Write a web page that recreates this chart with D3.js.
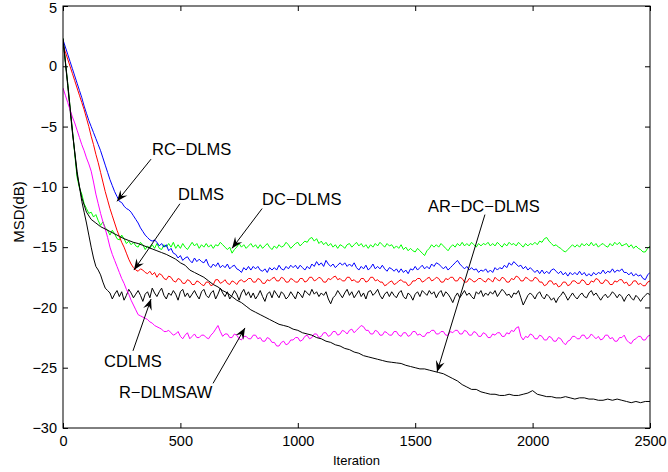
<!DOCTYPE html>
<html>
<head>
<meta charset="utf-8">
<script src="https://cdn.jsdelivr.net/npm/d3@7"></script>
<style>
  html, body { margin: 0; padding: 0; background: #fff; }
  svg { display: block; }
  text { font-family: "Liberation Sans", Arial, Helvetica, sans-serif; fill: #000; }
</style>
</head>
<body>
<svg id="chart" width="668" height="472"></svg>
<script>
// ---------- data ----------
// noisy curves sampled every 10 iterations (0..2500), smooth AR-DC-DLMS every 20
const iters10 = d3.range(0, 2501, 10);
const iters20 = d3.range(0, 2501, 20);

const xTicks = [0, 500, 1000, 1500, 2000, 2500];
const yTicks = [-30, -25, -20, -15, -10, -5, 0, 5];

const dcDLMS = [ // green
  2.3, 0.4, -1.4, -3.4, -5.3, -7.3, -9.2, -10.1, -10.6, -11.4, -11.8, -12.2, -12.1, -12.5, -12.3, -12.8, -13.2, -12.9, -13.4, -13.6,
  -14.0, -13.6, -13.9, -14.3, -14.4, -14.0, -14.3, -14.7, -14.5, -14.8, -14.6, -14.9, -15.0, -14.6, -14.8, -15.2, -14.9, -15.1, -14.8, -15.1,
  -14.7, -15.1, -15.2, -14.8, -15.0, -14.7, -15.0, -14.6, -15.1, -14.8, -15.1, -14.7, -15.0, -15.2, -14.9, -14.6, -14.9, -14.7, -15.1, -14.8,
  -15.0, -14.7, -15.0, -14.8, -15.1, -14.8, -14.9, -14.6, -14.8, -15.0, -15.2, -15.0, -15.5, -15.2, -15.0, -14.7, -15.0, -14.8, -15.1, -14.9,
  -14.7, -15.0, -14.8, -15.1, -14.8, -15.1, -14.9, -14.7, -15.0, -15.2, -14.9, -15.1, -14.8, -15.0, -14.9, -14.6, -14.8, -15.1, -14.9, -14.7,
  -14.6, -14.9, -14.7, -14.5, -14.6, -14.3, -14.2, -14.5, -14.3, -14.7, -14.5, -14.8, -14.6, -14.9, -14.7, -15.0, -14.8, -15.1, -14.8, -14.9,
  -15.1, -14.8, -14.7, -15.0, -14.8, -14.6, -14.9, -14.7, -15.0, -14.8, -15.1, -14.8, -15.0, -14.7, -14.9, -14.6, -14.8, -15.0, -14.7, -14.9,
  -14.8, -15.1, -14.9, -15.1, -14.8, -15.2, -15.0, -15.3, -15.1, -15.3, -15.4, -15.1, -15.3, -15.5, -15.7, -15.3, -15.1, -14.8, -15.0, -14.8,
  -15.0, -14.7, -14.9, -15.1, -15.3, -15.0, -14.8, -15.0, -14.7, -14.9, -14.6, -14.9, -14.7, -14.9, -14.6, -14.8, -15.0, -14.7, -14.9, -14.7,
  -14.8, -14.6, -14.9, -14.7, -14.9, -14.6, -14.8, -15.0, -14.7, -14.9, -14.6, -14.8, -14.7, -14.9, -14.6, -14.8, -15.0, -14.7, -14.9, -14.7,
  -14.8, -14.6, -14.8, -14.5, -14.6, -14.3, -14.2, -14.5, -14.7, -14.9, -14.8, -15.0, -15.1, -15.3, -15.4, -15.2, -15.0, -14.8, -15.0, -14.8,
  -15.0, -14.7, -14.9, -14.7, -14.9, -14.6, -14.9, -14.7, -15.0, -14.8, -14.7, -14.9, -15.0, -14.7, -14.9, -14.6, -14.8, -14.6, -14.9, -14.8,
  -14.7, -15.0, -14.8, -15.1, -14.9, -15.1, -15.2, -15.4, -15.4, -15.1, -14.9
];

const rcDLMS = [ // blue
  2.2, 1.6, 1.0, 0.4, -0.2, -0.8, -1.4, -2.0, -2.6, -3.3, -3.9, -4.5, -5.0, -5.5, -6.0, -6.5, -7.0, -7.6, -8.2, -8.8,
  -9.4, -9.9, -10.4, -10.8, -11.2, -11.3, -11.6, -11.8, -11.9, -12.1, -12.4, -12.7, -13.0, -13.4, -13.7, -14.0, -14.2, -14.4, -14.5, -14.4,
  -14.6, -14.9, -14.7, -15.0, -14.8, -15.3, -15.1, -15.5, -15.6, -15.9, -15.7, -16.1, -15.9, -15.8, -16.1, -16.3, -15.9, -16.2, -16.0, -16.2,
  -16.3, -16.0, -16.5, -16.7, -16.4, -16.6, -16.3, -16.7, -16.5, -16.7, -16.4, -16.8, -16.6, -16.5, -16.8, -16.9, -17.1, -16.7, -16.9, -16.6,
  -16.9, -16.6, -16.8, -16.6, -16.9, -17.0, -16.8, -17.1, -16.7, -16.9, -16.7, -16.9, -16.5, -16.8, -16.9, -16.6, -16.8, -16.5, -16.7, -16.5,
  -16.8, -16.5, -16.7, -16.9, -16.6, -16.8, -16.4, -16.6, -16.2, -16.5, -16.3, -16.6, -16.1, -16.4, -16.6, -16.4, -16.7, -16.5, -16.3, -16.5,
  -16.3, -16.6, -16.4, -16.6, -16.3, -16.7, -16.9, -16.6, -16.8, -16.5, -16.9, -16.7, -16.4, -16.8, -16.6, -16.8, -16.5, -16.8, -17.0, -16.7,
  -16.8, -17.0, -16.8, -17.1, -16.8, -17.1, -16.9, -17.2, -16.8, -16.9, -16.6, -16.9, -16.7, -16.5, -16.8, -16.6, -16.8, -16.4, -16.6, -16.3,
  -16.4, -16.6, -16.8, -16.6, -16.9, -16.7, -16.5, -16.3, -16.1, -16.4, -16.6, -16.8, -16.6, -16.9, -16.7, -16.9, -16.8, -17.1, -16.9, -17.0,
  -16.8, -17.1, -16.9, -17.1, -16.7, -16.9, -16.7, -16.8, -16.5, -16.7, -16.3, -16.5, -16.2, -16.4, -16.6, -16.5, -16.8, -16.6, -16.9, -16.7,
  -16.9, -17.1, -16.9, -17.2, -16.9, -17.2, -17.0, -17.2, -16.9, -16.8, -17.0, -17.2, -17.0, -17.3, -17.1, -17.4, -17.1, -17.3, -17.1, -17.3,
  -17.0, -17.3, -17.1, -17.4, -17.2, -17.4, -17.1, -17.3, -17.1, -17.2, -16.9, -17.2, -17.0, -17.1, -16.8, -17.1, -16.9, -17.0, -16.8, -17.1,
  -17.1, -17.3, -17.1, -17.4, -17.2, -17.4, -17.3, -17.6, -17.7, -17.3, -17.1
];

const dLMS = [ // red
  1.7, 1.2, 0.6, 0.0, -0.6, -1.2, -1.8, -2.4, -3.0, -3.6, -4.3, -5.0, -5.8, -6.5, -7.3, -8.0, -8.8, -9.6, -10.4, -11.1,
  -11.8, -12.4, -13.0, -13.6, -14.1, -14.6, -15.0, -15.5, -16.0, -16.4, -16.7, -16.9, -17.0, -16.8, -16.9, -17.1, -17.2, -17.0, -17.3, -17.1,
  -17.5, -17.2, -17.3, -17.6, -17.7, -17.4, -17.5, -17.8, -17.9, -17.6, -17.7, -18.0, -18.0, -17.7, -17.8, -18.1, -18.1, -17.8, -17.9, -18.1,
  -18.2, -17.9, -17.9, -18.2, -18.1, -17.7, -17.7, -18.0, -17.9, -17.7, -18.0, -18.1, -17.8, -17.9, -18.1, -17.8, -17.7, -17.9, -17.8, -17.6,
  -17.6, -17.9, -17.9, -17.6, -17.7, -18.0, -18.0, -17.7, -17.8, -17.6, -17.5, -17.8, -17.8, -17.5, -17.6, -17.9, -17.9, -17.6, -17.7, -17.9,
  -17.9, -17.6, -17.6, -17.9, -17.8, -17.5, -17.5, -17.8, -17.7, -17.5, -17.6, -17.9, -17.9, -17.6, -17.7, -17.5, -17.4, -17.7, -17.6, -17.8,
  -17.8, -17.5, -17.5, -17.8, -17.7, -17.9, -17.9, -17.6, -17.6, -17.9, -17.8, -17.5, -17.5, -17.8, -17.7, -17.9, -17.9, -18.2, -18.1, -17.9,
  -17.8, -18.1, -18.0, -17.8, -17.7, -17.9, -17.9, -18.2, -18.1, -17.8, -17.8, -17.6, -17.6, -17.9, -17.8, -17.6, -17.5, -17.8, -17.7, -17.5,
  -17.6, -17.9, -17.9, -17.6, -17.7, -17.5, -17.5, -17.8, -17.8, -17.5, -17.6, -17.9, -17.9, -17.6, -17.7, -17.9, -17.8, -17.6, -17.6, -17.8,
  -17.9, -17.6, -17.7, -17.9, -17.5, -17.7, -17.8, -17.5, -17.6, -17.9, -17.9, -17.6, -17.7, -17.4, -17.5, -17.8, -17.8, -17.5, -17.6, -17.8,
  -17.8, -17.5, -17.6, -17.9, -17.9, -18.2, -18.1, -17.8, -17.8, -18.1, -18.0, -18.3, -18.2, -17.9, -17.9, -18.2, -18.1, -17.8, -17.8, -18.0,
  -18.0, -17.7, -17.8, -18.1, -18.1, -17.8, -17.9, -17.6, -17.7, -18.0, -18.0, -17.7, -17.8, -18.1, -18.1, -17.8, -17.9, -17.7, -17.7, -18.0,
  -17.9, -18.2, -18.1, -17.8, -17.8, -18.1, -18.0, -18.2, -18.2, -17.9, -17.8
];

const cDLMS = [ // black, noisy
  2.3, 0.3, -1.6, -3.6, -5.5, -7.1, -8.7, -10.0, -11.2, -12.1, -13.0, -14.0, -15.0, -15.9, -16.6, -16.9, -17.3, -17.9, -18.4, -18.6,
  -18.8, -19.3, -18.9, -18.6, -19.1, -18.7, -19.4, -19.0, -18.5, -18.8, -19.2, -18.9, -18.6, -19.0, -19.5, -18.9, -18.7, -19.2, -18.4, -18.8,
  -19.1, -18.7, -18.4, -19.0, -19.3, -18.8, -19.0, -18.6, -18.9, -19.4, -18.7, -18.5, -19.1, -18.8, -19.2, -18.9, -18.6, -19.0, -19.3, -18.7,
  -18.5, -19.0, -19.2, -18.8, -18.6, -19.3, -18.9, -18.4, -18.8, -19.1, -18.7, -19.3, -19.0, -18.6, -18.9, -19.4, -18.8, -18.5, -19.0, -18.7,
  -19.2, -18.8, -19.3, -19.0, -18.6, -19.1, -19.5, -18.9, -18.7, -19.2, -18.6, -18.9, -19.2, -18.7, -18.9, -19.3, -19.1, -18.7, -19.0, -19.3,
  -18.7, -18.9, -19.2, -18.6, -18.8, -19.0, -18.5, -18.9, -18.7, -19.1, -18.8, -19.0, -18.7, -19.3, -19.7, -19.2, -19.0, -18.6, -18.9, -19.2,
  -18.8, -18.5, -19.0, -18.7, -19.2, -18.9, -18.6, -19.1, -18.8, -19.3, -18.7, -18.6, -19.0, -18.8, -18.5, -19.0, -19.3, -18.9, -18.7, -19.1,
  -18.7, -19.0, -19.2, -18.8, -18.6, -19.1, -19.3, -18.8, -19.0, -19.4, -18.9, -18.7, -19.1, -18.6, -18.8, -19.0, -18.6, -18.9, -18.7, -19.2,
  -18.8, -18.6, -19.1, -18.7, -18.9, -19.2, -19.6, -19.1, -18.8, -19.2, -18.9, -18.6, -19.0, -18.8, -19.1, -19.3, -18.7, -18.9, -18.6, -19.1,
  -18.8, -19.0, -18.7, -18.9, -18.6, -19.1, -18.8, -18.5, -18.7, -19.0, -18.9, -19.2, -18.8, -18.9, -18.6, -19.2, -19.8, -19.4, -19.0, -18.8,
  -19.0, -19.3, -18.9, -18.7, -19.1, -19.3, -18.9, -19.1, -19.4, -19.2, -19.6, -19.2, -19.0, -18.7, -19.0, -19.4, -19.1, -18.8, -19.1, -19.3,
  -19.0, -18.8, -19.1, -19.2, -18.8, -18.6, -19.0, -18.8, -19.1, -19.4, -19.1, -18.9, -19.2, -19.0, -18.7, -18.9, -19.2, -18.9, -19.1, -19.5,
  -19.1, -18.9, -19.2, -19.4, -19.0, -19.2, -19.5, -19.2, -19.0, -18.8, -19.0
];

const rDLMSAW = [ // magenta
  -1.8, -2.4, -3.0, -3.6, -4.2, -4.7, -5.3, -5.9, -6.5, -7.0, -7.6, -8.1, -8.7, -9.6, -10.6, -11.4, -12.2, -12.9, -13.5, -14.2,
  -15.0, -15.6, -16.1, -16.6, -17.1, -17.6, -18.0, -18.5, -18.9, -19.4, -19.8, -20.2, -20.6, -20.7, -20.8, -20.9, -21.0, -21.2, -21.3, -21.5,
  -21.6, -21.7, -21.8, -22.0, -22.0, -21.9, -22.1, -22.3, -22.2, -22.0, -22.4, -22.6, -22.3, -22.1, -22.6, -22.4, -22.2, -22.5, -22.5, -22.3,
  -22.3, -22.5, -22.6, -22.3, -22.1, -21.8, -21.5, -22.0, -22.4, -22.2, -22.2, -22.5, -22.5, -22.2, -22.3, -22.6, -22.7, -22.4, -22.4, -22.6,
  -22.6, -22.3, -22.3, -22.6, -22.5, -22.8, -22.8, -22.5, -22.6, -22.9, -22.9, -23.2, -23.2, -22.9, -22.8, -23.1, -23.0, -22.7, -22.7, -22.5,
  -22.5, -22.8, -22.7, -22.4, -22.3, -22.6, -22.5, -22.2, -22.2, -22.5, -22.4, -22.1, -22.1, -22.4, -22.3, -22.0, -22.0, -22.3, -22.2, -21.9,
  -22.0, -22.2, -21.9, -21.8, -22.1, -21.9, -21.7, -21.5, -21.6, -21.9, -21.9, -22.2, -22.2, -21.9, -22.0, -22.3, -22.3, -22.0, -22.1, -22.3,
  -22.3, -22.0, -22.0, -22.3, -22.4, -22.1, -22.1, -22.4, -22.3, -22.0, -22.0, -22.3, -22.2, -22.4, -22.4, -22.1, -22.1, -21.9, -21.9, -22.2,
  -22.2, -22.0, -22.0, -22.3, -22.3, -22.0, -22.1, -21.9, -21.9, -22.2, -22.2, -21.9, -22.0, -22.3, -22.3, -22.0, -22.1, -22.4, -22.4, -22.1,
  -22.2, -22.5, -22.5, -22.2, -22.3, -22.1, -22.1, -22.4, -22.4, -22.1, -22.2, -21.9, -22.0, -21.7, -21.6, -22.4, -22.7, -22.4, -22.5, -22.2,
  -22.3, -22.6, -22.6, -22.3, -22.4, -22.7, -22.7, -22.4, -22.5, -22.8, -22.8, -22.5, -22.6, -22.9, -23.1, -22.8, -22.7, -22.4, -22.4, -22.6,
  -22.6, -22.3, -22.3, -22.6, -22.5, -22.2, -22.4, -22.6, -22.4, -22.7, -22.6, -22.3, -22.3, -22.6, -22.5, -22.8, -22.8, -22.5, -22.5, -22.3,
  -22.7, -22.9, -23.0, -22.7, -22.6, -22.4, -22.4, -22.7, -22.7, -22.4, -22.3
];

const arDCDLMS = [ // black, smooth (every 20 iterations)
  2.3, -1.4, -5.3, -9.0, -10.9, -12.1, -12.7, -13.0, -13.3, -13.5,
  -13.7, -13.9, -14.1, -14.3, -14.45, -14.6, -14.7, -14.85, -15.0, -15.15,
  -15.3, -15.45, -15.6, -15.8, -16.0, -16.3, -16.5, -16.9, -17.1, -17.3,
  -17.5, -17.8, -18.1, -18.3, -18.6, -18.8, -19.1, -19.4, -19.6, -19.9,
  -20.2, -20.4, -20.6, -20.8, -21.0, -21.2, -21.4, -21.5, -21.6, -21.8,
  -21.9, -22.1, -22.2, -22.3, -22.5, -22.6, -22.8, -22.9, -23.1, -23.2,
  -23.4, -23.5, -23.7, -23.8, -24.0, -24.1, -24.2, -24.3, -24.4, -24.5,
  -24.55, -24.6, -24.65, -24.8, -24.9, -25.0, -25.1, -25.1, -25.2, -25.3,
  -25.4, -25.5, -25.7, -25.9, -26.1, -26.4, -26.6, -26.8, -26.8, -27.0,
  -27.1, -27.2, -27.2, -27.3, -27.3, -27.2, -27.3, -27.3, -27.2, -27.1,
  -26.9, -27.2, -27.3, -27.4, -27.4, -27.5, -27.5, -27.4, -27.5, -27.6,
  -27.5, -27.5, -27.6, -27.6, -27.7, -27.7, -27.6, -27.7, -27.6, -27.7,
  -27.8, -27.9, -27.8, -27.9, -27.8, -27.8
];

const seriesColors = ["#00ff00", "#0000ff", "#ff0000", "#000000", "#ff00ff", "#000000"];
const seriesValues = [dcDLMS, rcDLMS, dLMS, cDLMS, rDLMSAW, arDCDLMS];
const seriesIters  = [iters10, iters10, iters10, iters10, iters10, iters20];

// annotations: label anchor (iteration, dB), arrow start, arrow tip
const annLabels = ["RC−DLMS", "DLMS", "DC−DLMS", "AR−DC−DLMS", "CDLMS", "R−DLMSAW"];
const annText  = [[379, -7.36], [490, -11.1], [848, -11.5], [1554, -12.1], [175, -24.94], [238, -27.5]];
const annFrom  = [[375, -7.7], [498, -11.4], [848, -11.8], [1797, -12.3], [298, -23.6], [639, -26.3]];
const annTip   = [[230, -11.2], [302, -16.9], [720, -15.1], [1593, -25.35], [375, -19.3], [775, -21.7]];

// ---------- drawing ----------
const svg = d3.select("#chart");
const L = 63, R = 650, T = 6, B = 428;
const x = d3.scaleLinear().domain([0, 2500]).range([L, R]);
const y = d3.scaleLinear().domain([-30, 5]).range([B, T]);

svg.append("defs").append("clipPath").attr("id", "clip")
  .append("rect").attr("x", L).attr("y", T).attr("width", R - L).attr("height", B - T);

const g = svg.append("g").attr("clip-path", "url(#clip)");
seriesValues.forEach((vals, k) => {
  const its = seriesIters[k];
  const line = d3.line().x((d, i) => x(its[i])).y(d => y(d));
  g.append("path")
    .datum(vals)
    .attr("d", line)
    .attr("fill", "none")
    .attr("stroke", seriesColors[k])
    .attr("stroke-width", 1)
    .attr("stroke-linejoin", "round");
});

// axes (ticks inward, mirrored)
const tickLen = 5;
const fs = 14.5;
const axB = svg.append("g").attr("transform", `translate(0,${B})`)
  .call(d3.axisBottom(x).tickValues(xTicks).tickSizeInner(-tickLen).tickSizeOuter(0).tickPadding(8)
    .tickFormat(d3.format("d")));
const axT = svg.append("g").attr("transform", `translate(0,${T})`)
  .call(d3.axisTop(x).tickValues(xTicks).tickSizeInner(-tickLen).tickSizeOuter(0).tickFormat(""));
const axL = svg.append("g").attr("transform", `translate(${L},0)`)
  .call(d3.axisLeft(y).tickValues(yTicks).tickSizeInner(-tickLen).tickSizeOuter(0).tickPadding(6)
    .tickFormat(d => d < 0 ? "\u2212" + Math.abs(d) : String(d)));
const axR = svg.append("g").attr("transform", `translate(${R},0)`)
  .call(d3.axisRight(y).tickValues(yTicks).tickSizeInner(-tickLen).tickSizeOuter(0).tickFormat(""));

[axB, axT, axL, axR].forEach(a => {
  a.select(".domain").remove();
  a.selectAll(".tick line").attr("stroke", "#000").attr("stroke-width", 1);
  a.selectAll("text").attr("font-size", fs).attr("font-family", "Liberation Sans, Arial, sans-serif").attr("fill", "#000");
});
axB.selectAll("text").attr("dy", "0.71em");
axL.selectAll(".tick").filter(d => d === 5).select("text").attr("dy", "0.42em");

// box
svg.append("rect").attr("x", L).attr("y", T).attr("width", R - L).attr("height", B - T)
  .attr("fill", "none").attr("stroke", "#000").attr("stroke-width", 1);

// axis titles
svg.append("text").attr("x", (L + R) / 2).attr("y", 465).attr("text-anchor", "middle")
  .attr("font-size", 13).text("Iteration");
svg.append("text").attr("transform", `translate(24,${(T + B) / 2 - 5}) rotate(-90)`)
  .attr("text-anchor", "middle").attr("font-size", 15).text("MSD(dB)");

// annotations
const ann = svg.append("g");
annLabels.forEach((lab, i) => {
  ann.append("text").attr("x", x(annText[i][0])).attr("y", y(annText[i][1]))
    .attr("font-size", 16.5).text(lab);
  const x0 = x(annFrom[i][0]), y0 = y(annFrom[i][1]);
  const x1 = x(annTip[i][0]), y1 = y(annTip[i][1]);
  ann.append("line").attr("x1", x0).attr("y1", y0).attr("x2", x1).attr("y2", y1)
    .attr("stroke", "#000").attr("stroke-width", 1);
  const ang = Math.atan2(y1 - y0, x1 - x0);
  const len = 11, hw = 4.5, back = 7;
  const ux = Math.cos(ang), uy = Math.sin(ang);
  const px = -uy, py = ux;
  const bx = x1 - ux * len, by = y1 - uy * len;
  const nx = x1 - ux * back, ny = y1 - uy * back;
  const pts = [[x1, y1], [bx + px * hw, by + py * hw], [nx, ny], [bx - px * hw, by - py * hw]];
  ann.append("path").attr("d", "M" + pts.map(p => p.join(",")).join("L") + "Z").attr("fill", "#000");
});
</script>
</body>
</html>
